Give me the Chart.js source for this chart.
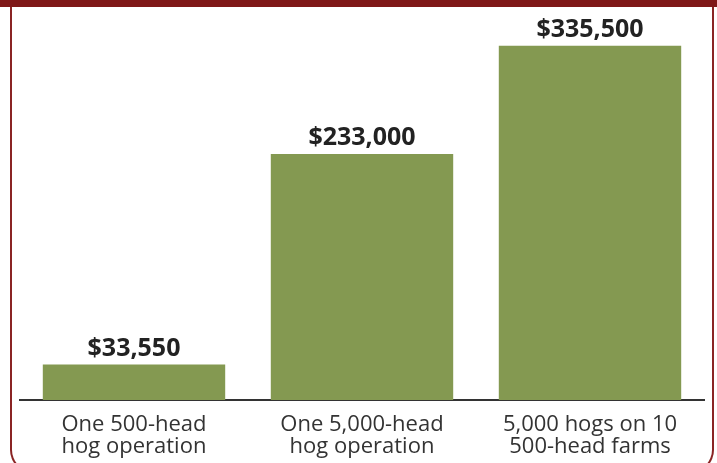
<!DOCTYPE html>
<html>
<head>
<meta charset="utf-8">
<script src="https://cdn.jsdelivr.net/npm/chart.js@4"></script>
<style>
   html, body { margin: 0; padding: 0; background: #fff; }
   #wrap { position: relative; width: 717px; height: 463px; overflow: hidden; }
   #band { position: absolute; left: 0; top: 0; width: 717px; height: 7px; background: #7f1818; }
   #frame {
      position: absolute; left: 10px; top: 0; width: 704px; height: 473px;
      box-sizing: border-box; border: 2px solid #8a2424; border-top: none;
      border-radius: 0 0 23px 23px;
   }
   canvas { position: absolute; left: 0; top: 0; }
</style>
</head>
<body>
<div id="wrap">
   <div id="frame"></div>
   <div id="band"></div>
   <!-- canvas is a bit taller than the window, bottom gets cropped -->
   <canvas id="chart" width="717" height="472"></canvas>
</div>
<script>
// Data
const categories = [
   ["One 500-head", "hog operation"],
   ["One 5,000-head", "hog operation"],
   ["5,000 hogs on 10", "500-head farms"]
];
const values = [33550, 233000, 335500];
const valueLabels = ["$33,550", "$233,000", "$335,500"];

const barColor = "#849951";
const textColor = "#333333";

// Draws the bold value labels above each bar
const valueLabelPlugin = {
   id: "valueLabels",
   afterDatasetsDraw(chart) {
      const ctx = chart.ctx;
      const meta = chart.getDatasetMeta(0);
      ctx.save();
      ctx.font = "bold 25px 'Open Sans'";
      ctx.fillStyle = "#222222";
      ctx.textAlign = "center";
      ctx.textBaseline = "alphabetic";
      meta.data.forEach((bar, i) => {
         ctx.fillText(valueLabels[i], bar.x, bar.y - 9);
      });
      ctx.restore();
   }
};

new Chart(document.getElementById("chart"), {
   type: "bar",
   data: {
      labels: categories,
      datasets: [{
         data: values,
         backgroundColor: barColor,
         borderWidth: 0,
         barPercentage: 0.8,
         categoryPercentage: 1.0
      }]
   },
   options: {
      responsive: false,
      animation: false,
      layout: {
         padding: { left: 20, right: 13, top: 20, bottom: 0 }
      },
      plugins: {
         legend: { display: false },
         tooltip: { enabled: false }
      },
      scales: {
         y: {
            display: false,
            min: 0,
            max: 360000
         },
         x: {
            grid: { display: false, drawTicks: false },
            border: { display: true, color: "#333333", width: 2 },
            ticks: {
               color: textColor,
               font: { family: "'Open Sans'", size: 22, lineHeight: 1.0 },
               padding: 14,
               maxRotation: 0,
               minRotation: 0
            }
         }
      }
   },
   plugins: [valueLabelPlugin]
});
</script>
</body>
</html>
